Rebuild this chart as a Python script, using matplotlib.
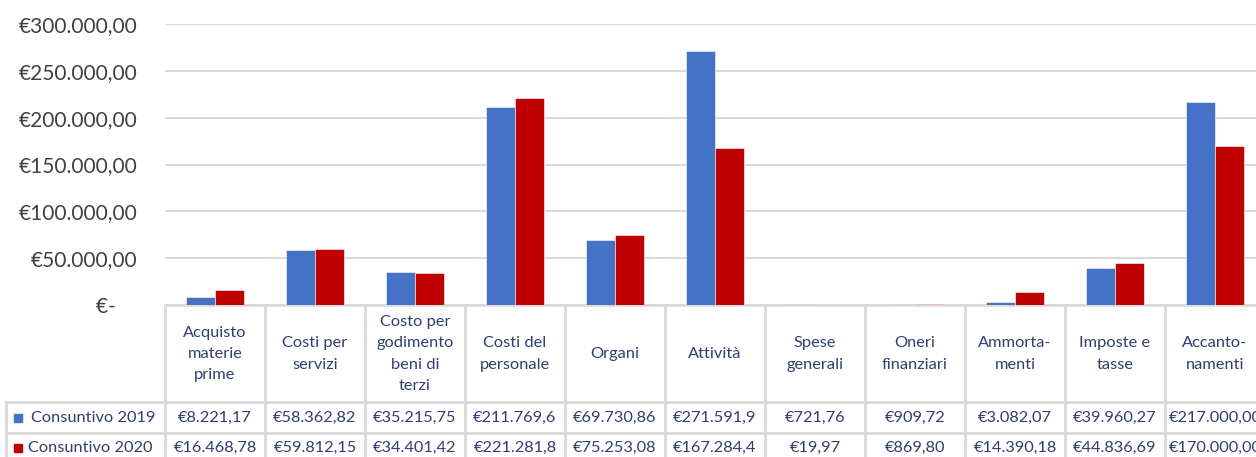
import matplotlib.pyplot as plt
import numpy as np
from matplotlib.patches import Rectangle
from matplotlib.transforms import blended_transform_factory

# categorie e valori (consuntivi)
categories = ["Acquisto\nmaterie\nprime", "Costi per\nservizi", "Costo per\ngodimento\nbeni di\nterzi",
              "Costi del\npersonale", "Organi", "Attività", "Spese\ngenerali", "Oneri\nfinanziari",
              "Ammorta-\nmenti", "Imposte e\ntasse", "Accanto-\nnamenti"]
series_names = ["Consuntivo 2019", "Consuntivo 2020"]
values_2019 = [8221.17, 58362.82, 35215.75, 211769.6, 69730.86, 271591.9, 721.76, 909.72, 3082.07, 39960.27, 217000.0]
values_2020 = [16468.78, 59812.15, 34401.42, 221281.8, 75253.08, 167284.4, 19.97, 869.80, 14390.18, 44836.69, 170000.0]
# testo come appare nella tabella dati (troncato dalla larghezza delle celle)
labels_2019 = ["€8.221,17", "€58.362,82", "€35.215,75", "€211.769,6", "€69.730,86", "€271.591,9",
               "€721,76", "€909,72", "€3.082,07", "€39.960,27", "€217.000,00"]
labels_2020 = ["€16.468,78", "€59.812,15", "€34.401,42", "€221.281,8", "€75.253,08", "€167.284,4",
               "€19,97", "€869,80", "€14.390,18", "€44.836,69", "€170.000,00"]

blue = "#4472C4"
red = "#C00000"
grid_col = "#D9D9D9"
txt_col = "#2F3F6E"

plt.rcParams['font.family'] = ['Lato', 'DejaVu Sans']

W, H = 1256, 457
fig = plt.figure(figsize=(W / 100, H / 100), dpi=100)

def fx(p):
    return p / W

def fy(p):
    return 1 - p / H

ax = fig.add_axes([fx(165), fy(305), fx(1100), fy(24) - fy(305)])

x = np.arange(len(categories))
w = 0.29
ax.bar(x - w / 2, values_2019, w, color=blue, edgecolor="white", linewidth=0.4, zorder=3)
ax.bar(x + w / 2, values_2020, w, color=red, edgecolor="white", linewidth=0.4, zorder=3)

ax.set_xlim(-0.5, len(categories) - 0.5)
ax.set_ylim(0, 300000)
yt = np.arange(0, 300001, 50000)
ax.set_yticks(yt)

def euro(v):
    if v == 0:
        return "€-    "
    s = f"{v:,.2f}".replace(",", "X").replace(".", ",").replace("X", ".")
    return "€" + s

ax.set_yticklabels([euro(v) for v in yt], fontsize=15, color="#404040")
ax.tick_params(axis="y", length=0, pad=20)
ax.set_xticks([])
ax.grid(axis="y", color=grid_col, linewidth=1.5, zorder=0)
ax.set_axisbelow(True)
for s in ["top", "right", "left"]:
    ax.spines[s].set_visible(False)
ax.spines["bottom"].set_color(grid_col)
ax.spines["bottom"].set_linewidth(1.8)

# tabella dati sotto il grafico
tr = blended_transform_factory(ax.transData, fig.transFigure)
lkw = dict(color=grid_col, linewidth=2, clip_on=False)

for k in range(len(categories) + 1):
    fig.add_artist(plt.Line2D([k - 0.5, k - 0.5], [fy(305), fy(470)], transform=tr, **lkw))
for py in [402, 433]:
    fig.add_artist(plt.Line2D([fx(6), 1.05], [fy(py), fy(py)], transform=fig.transFigure, **lkw))
fig.add_artist(plt.Line2D([fx(6), fx(6)], [fy(402), fy(470)], transform=fig.transFigure, **lkw))

for i, cat in enumerate(categories):
    fig.text(i, fy(354), cat, transform=tr, ha="center", va="center", fontsize=11.8,
             color=txt_col, linespacing=1.65)
    fig.text(i, fy(418), labels_2019[i], transform=tr, ha="center", va="center", fontsize=11.8, color=txt_col)
    fig.text(i, fy(448), labels_2020[i], transform=tr, ha="center", va="center", fontsize=11.8, color=txt_col)

# legenda nella prima colonna
fig.add_artist(Rectangle((fx(14), fy(422)), fx(8), fy(414) - fy(422), color=blue, transform=fig.transFigure))
fig.text(fx(31), fy(418), series_names[0], ha="left", va="center", fontsize=11.8, color=txt_col)
fig.add_artist(Rectangle((fx(14), fy(452)), fx(8), fy(444) - fy(452), color=red, transform=fig.transFigure))
fig.text(fx(28), fy(448), series_names[1], ha="left", va="center", fontsize=11.8, color=txt_col)

fig.savefig("out.png", dpi=100)
